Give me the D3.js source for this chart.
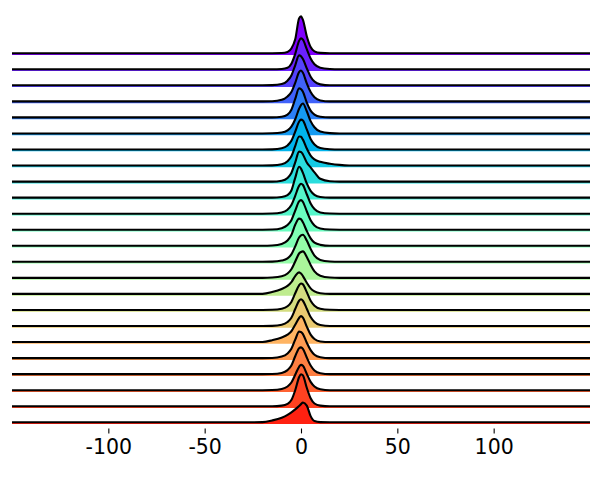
<!DOCTYPE html>
<html>
<head>
<meta charset="utf-8">
<script src="https://cdn.jsdelivr.net/npm/d3@7"></script>
<style>
  body { margin: 0; background: #fff; }
  svg { display: block; font-family: "DejaVu Sans", sans-serif; }
</style>
</head>
<body>
<svg id="graph" width="605" height="480"></svg>
<script>
var xGrid = [-150, -25, -20, -15, -10, -7, -5, -3, -1, 0, 1, 3, 5, 7, 10, 15, 20, 25, 150];

var rowNames = ["g01", "g02", "g03", "g04", "g05", "g06", "g07", "g08", "g09", "g10", "g11", "g12",
                "g13", "g14", "g15", "g16", "g17", "g18", "g19", "g20", "g21", "g22", "g23", "g24"];

// density (x100) for each row, same order as xGrid
var d01 = [0, 0, 0, 0, 0.05, 0.4, 1.5, 4.5, 11.3, 12, 10.8, 5.5, 2.0, 0.6, 0.1, 0, 0, 0, 0];
var d02 = [0, 0, 0, 0, 0.1, 0.5, 1.8, 5.0, 9.2, 10, 9.6, 6.5, 3.5, 1.6, 0.5, 0.1, 0, 0, 0];
var d03 = [0, 0, 0, 0.05, 0.4, 1.5, 3.2, 6.5, 9.7, 9.4, 8.5, 5.5, 2.8, 1.2, 0.3, 0, 0, 0, 0];
var d04 = [0, 0, 0, 0.05, 0.5, 1.6, 3.0, 6.0, 9.5, 10, 9.3, 5.8, 3.0, 1.3, 0.3, 0, 0, 0, 0];
var d05 = [0, 0, 0, 0, 0.2, 0.9, 2.5, 6.0, 9.4, 9.2, 8.3, 4.8, 2.2, 0.9, 0.2, 0, 0, 0, 0];
var d06 = [0, 0, 0, 0.05, 0.3, 1.0, 2.2, 4.6, 8.0, 9.2, 9.7, 7.2, 4.0, 2.0, 0.6, 0.1, 0, 0, 0];
var d07 = [0, 0, 0, 0.05, 0.4, 1.3, 2.8, 5.8, 9.0, 9.7, 9.4, 6.5, 3.4, 1.6, 0.5, 0.1, 0, 0, 0];
var d08 = [0, 0, 0, 0.05, 0.4, 1.4, 3.0, 6.3, 9.4, 9.3, 8.4, 5.5, 3.2, 2.0, 1.2, 0.6, 0.2, 0.03, 0];
var d09 = [0, 0, 0, 0, 0.3, 1.2, 2.8, 6.2, 9.7, 9.6, 8.8, 6.2, 4.6, 3.0, 0.9, 0.1, 0, 0, 0];
var d10 = [0, 0, 0, 0, 0.2, 0.8, 2.3, 6.4, 10, 9.4, 8.0, 4.6, 2.2, 0.9, 0.2, 0, 0, 0, 0];
var d11 = [0, 0, 0, 0.05, 0.4, 1.3, 2.8, 5.8, 9.0, 9.7, 9.3, 6.3, 3.3, 1.5, 0.4, 0.05, 0, 0, 0];
var d12 = [0, 0, 0, 0.05, 0.5, 1.5, 3.1, 6.2, 9.2, 9.6, 9.0, 6.0, 3.1, 1.4, 0.4, 0.05, 0, 0, 0];
var d13 = [0, 0, 0, 0.1, 0.6, 1.7, 3.5, 6.8, 8.8, 8.6, 7.6, 4.8, 2.4, 1.0, 0.3, 0, 0, 0, 0];
var d14 = [0, 0, 0, 0.05, 0.4, 1.1, 2.4, 5.0, 7.9, 8.6, 8.8, 6.9, 4.2, 2.0, 0.6, 0.1, 0, 0, 0];
var d15 = [0, 0, 0, 0.1, 0.5, 1.4, 2.8, 5.3, 7.9, 8.4, 8.6, 6.8, 4.2, 2.1, 0.7, 0.1, 0, 0, 0];
var d16 = [0, 0, 0.03, 0.6, 1.6, 2.6, 3.8, 5.8, 7.0, 6.6, 5.8, 3.6, 1.8, 0.8, 0.2, 0, 0, 0, 0];
var d17 = [0, 0, 0, 0.05, 0.4, 1.2, 2.6, 5.4, 8.0, 8.6, 8.3, 5.8, 3.0, 1.4, 0.4, 0.05, 0, 0, 0];
var d18 = [0, 0, 0, 0.05, 0.4, 1.3, 2.7, 5.5, 8.2, 8.7, 8.2, 5.6, 2.9, 1.3, 0.3, 0, 0, 0, 0];
var d19 = [0, 0, 0.03, 0.6, 1.5, 2.4, 3.5, 5.6, 7.8, 8.4, 7.9, 5.0, 2.4, 1.0, 0.2, 0, 0, 0, 0];
var d20 = [0, 0, 0, 0.05, 0.5, 1.5, 3.0, 6.0, 8.6, 8.5, 7.8, 5.0, 2.6, 1.1, 0.3, 0, 0, 0, 0];
var d21 = [0, 0, 0, 0.05, 0.4, 1.3, 2.8, 5.8, 8.4, 8.7, 8.2, 5.4, 2.8, 1.2, 0.3, 0, 0, 0, 0];
var d22 = [0, 0, 0, 0.05, 0.4, 1.2, 2.5, 5.0, 7.6, 8.2, 7.9, 5.3, 2.7, 1.2, 0.3, 0, 0, 0, 0];
var d23 = [0, 0, 0, 0, 0.2, 0.8, 2.0, 5.2, 9.4, 10.4, 10.0, 6.0, 2.6, 0.9, 0.2, 0, 0, 0, 0];
var d24 = [0, 0, 0.05, 0.6, 1.5, 2.4, 3.2, 4.2, 5.3, 5.9, 6.4, 5.4, 2.0, 0.4, 0.05, 0, 0, 0, 0];

var densities = [d01, d02, d03, d04, d05, d06, d07, d08, d09, d10, d11, d12,
                 d13, d14, d15, d16, d17, d18, d19, d20, d21, d22, d23, d24];

var tickValues = [-100, -50, 0, 50, 100];
var tickLabels = ["-100", "-50", "0", "50", "100"];

// matplotlib "rainbow" colormap
function rainbow(t) {
    var r = Math.min(1, Math.abs(2 * t - 0.5));
    var g = Math.sin(Math.PI * t);
    var b = Math.cos(Math.PI * t / 2);
    return d3.rgb(r * 255, Math.max(0, g) * 255, Math.max(0, b) * 255).toString();
}

function creaGrafica() {
    var svg = d3.select("#graph");

    var x = d3.scaleLinear().domain([-150, 150]).range([12, 590]);
    // baseline of each ridge
    var rowY = d3.scalePoint().domain(rowNames).range([53.2, 422.3]);
    // height of a ridge above its baseline
    var h = d3.scaleLinear().domain([0, 12]).range([0, 37]);

    var rows = rowNames.map(function (name, i) {
        return {
            name: name,
            color: rainbow(i / rowNames.length),
            points: xGrid.map(function (xv, j) { return { x: xv, v: densities[i][j] }; })
        };
    });

    var ridges = svg.append("g").selectAll(".ridge")
        .data(rows)
        .enter()
        .append("g")
        .attr("class", "ridge")
        .attr("transform", function (d) { return "translate(0," + rowY(d.name) + ")"; });

    // fill, a bit below the line so its edge peeks out under the black curve
    ridges.append("path")
        .attr("d", function (d) {
            return d3.area()
                .x(function (p) { return x(p.x); })
                .y0(1.8)
                .y1(function (p) { return -h(p.v); })
                .curve(d3.curveMonotoneX)(d.points);
        })
        .attr("fill", function (d) { return d.color; });

    ridges.append("path")
        .attr("d", function (d) {
            return d3.line()
                .x(function (p) { return x(p.x); })
                .y(function (p) { return -h(p.v); })
                .curve(d3.curveMonotoneX)(d.points);
        })
        .attr("fill", "none")
        .attr("stroke", "#000")
        .attr("stroke-width", 2.1)
        .attr("stroke-linejoin", "round");

    var xAxis = svg.append("g")
        .attr("transform", "translate(0,428.5)")
        .call(d3.axisBottom(x)
            .tickValues(tickValues)
            .tickFormat(function (d, i) { return tickLabels[i]; })
            .tickSize(4.9)
            .tickPadding(6.5));

    xAxis.select(".domain").remove();
    xAxis.selectAll(".tick line").attr("stroke", "#000").attr("stroke-width", 1.1);
    xAxis.selectAll(".tick text")
        .attr("fill", "#000")
        .style("font-family", "DejaVu Sans")
        .style("font-size", "20.5px");
}

creaGrafica();
</script>
</body>
</html>
